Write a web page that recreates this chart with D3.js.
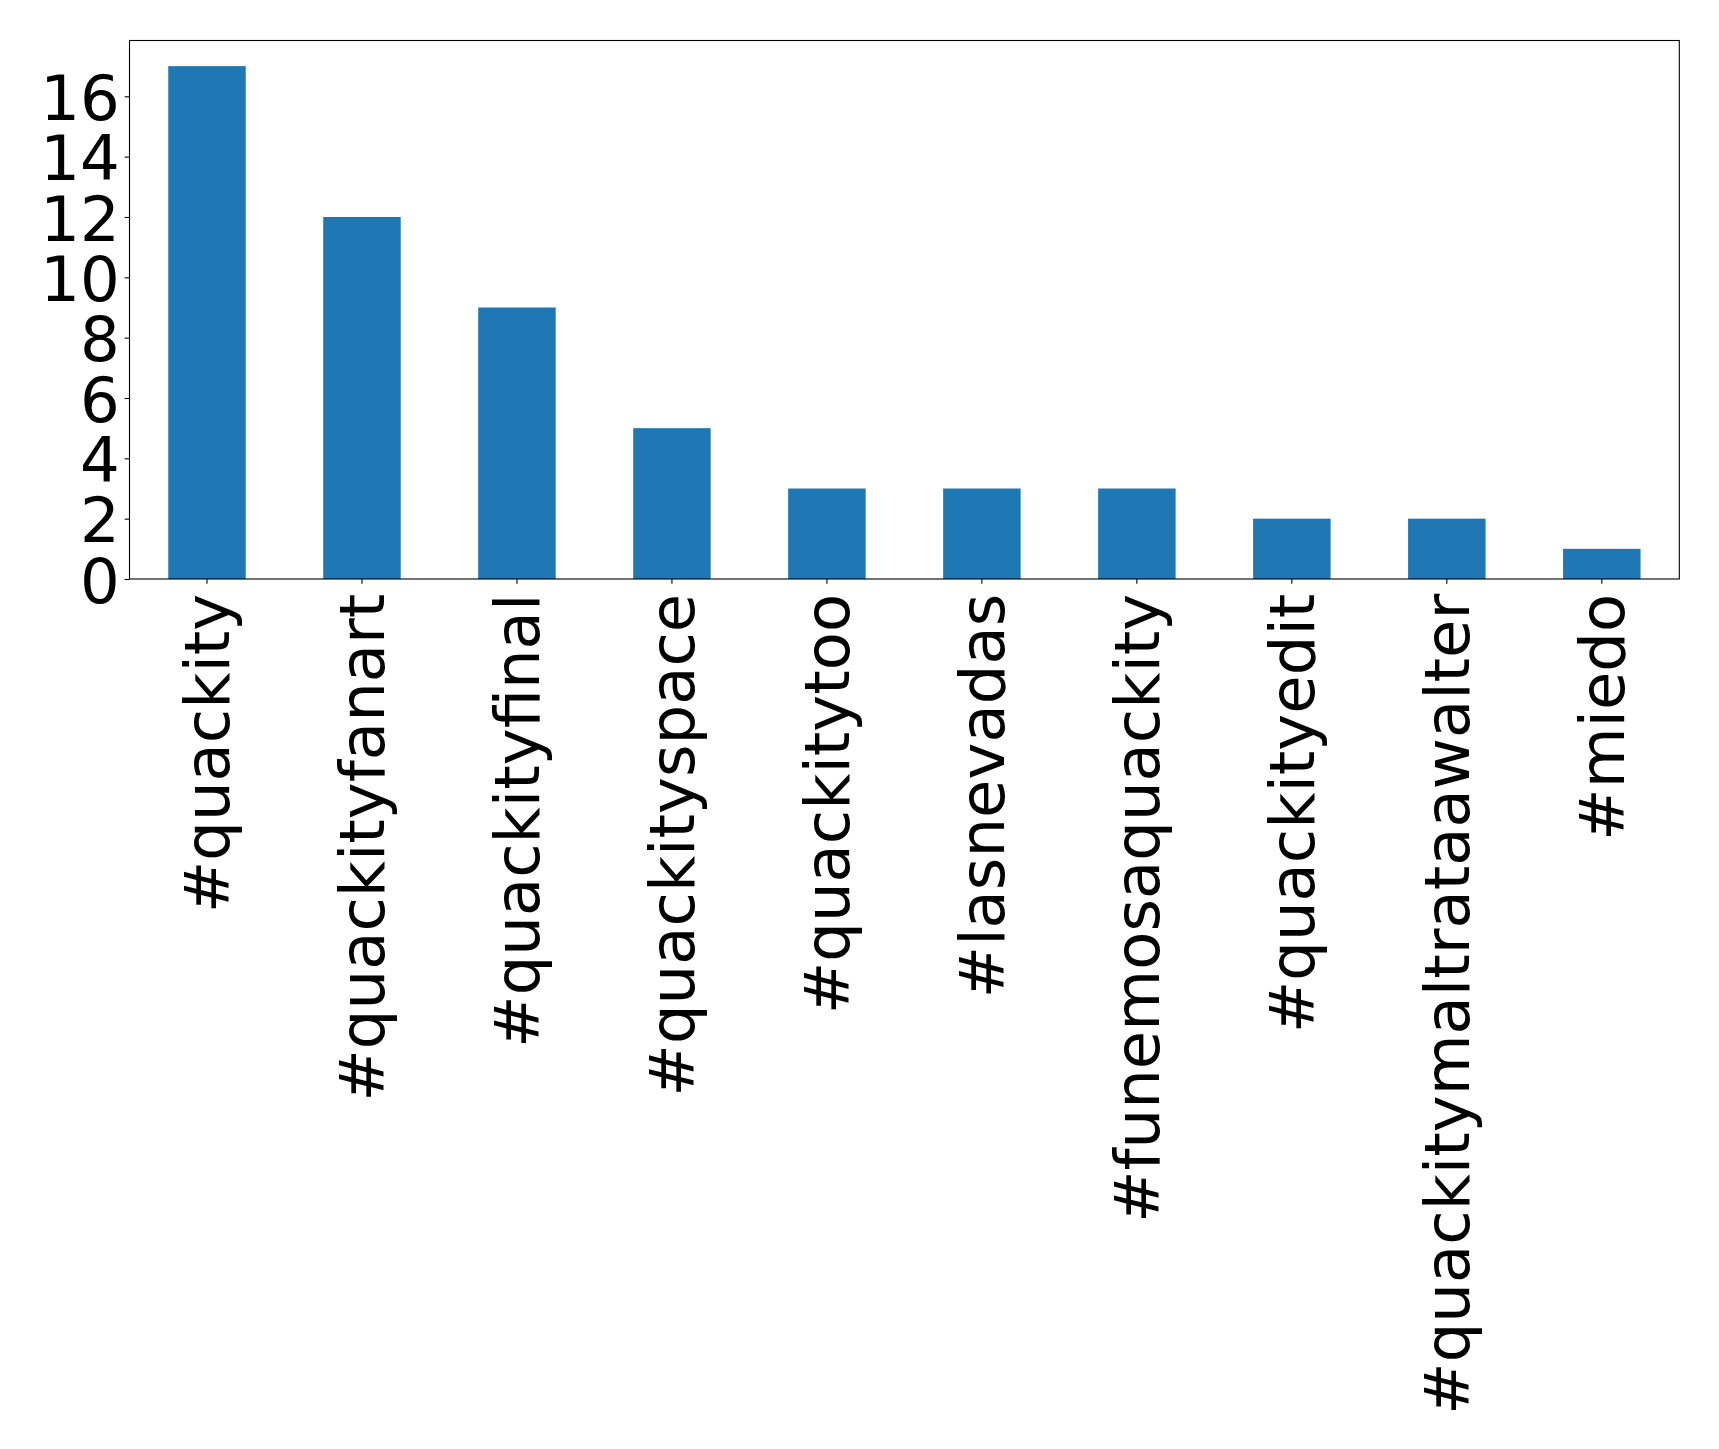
<!DOCTYPE html>
<html>
<head>
<meta charset="utf-8">
<script src="https://cdn.jsdelivr.net/npm/d3@7"></script>
<style>
  html, body { margin: 0; padding: 0; background: #fff; }
  svg { display: block; }
  text { font-family: "DejaVu Sans", sans-serif; fill: #000; }
</style>
</head>
<body>
<svg id="chart" width="1719" height="1449"></svg>
<script>
const categories = ["#quackity", "#quackityfanart", "#quackityfinal", "#quackityspace", "#quackitytoo",
  "#lasnevadas", "#funemosaquackity", "#quackityedit", "#quackitymaltrataawalter", "#miedo"];
const counts = [17, 12, 9, 5, 3, 3, 3, 2, 2, 1];
const yTicks = [0, 2, 4, 6, 8, 10, 12, 14, 16];

const margin = { left: 129.5, top: 40.5, right: 1719 - 1679.3, bottom: 1449 - 579 };
const W = 1719 - margin.left - margin.right;
const H = 1449 - margin.top - margin.bottom;
const fontSize = 62.5;

const svg = d3.select("#chart");
const g = svg.append("g").attr("transform", `translate(${margin.left},${margin.top})`);

const x = d3.scaleBand().domain(categories).range([0, W]).paddingInner(0.5).paddingOuter(0.25);
const yMax = d3.max(counts) * 1.05;
const y = d3.scaleLinear().domain([0, yMax]).range([H, 0]);

g.selectAll("rect.bar").data(counts).enter().append("rect")
  .attr("class", "bar")
  .attr("x", (d, i) => x(categories[i]))
  .attr("width", x.bandwidth())
  .attr("y", d => y(d))
  .attr("height", d => H - y(d))
  .attr("fill", "#1f77b4");

const tickLen = 4.86, pad = 4.86;

// y axis
const yAxis = g.append("g").call(d3.axisLeft(y).tickValues(yTicks).tickSize(tickLen).tickPadding(pad).tickFormat(d3.format("d")));
yAxis.select(".domain").remove();
yAxis.selectAll(".tick line").attr("stroke", "#000").attr("stroke-width", 1.1);
yAxis.selectAll(".tick text").attr("font-size", fontSize).attr("dy", "0.37em")
  .style("font-family", "'DejaVu Sans', sans-serif");

// x axis
const xAxis = g.append("g").attr("transform", `translate(0,${H})`)
  .call(d3.axisBottom(x).tickSize(tickLen).tickPadding(pad));
xAxis.select(".domain").remove();
xAxis.selectAll(".tick line").attr("stroke", "#000").attr("stroke-width", 1.1);
xAxis.selectAll(".tick text")
  .attr("font-size", fontSize)
  .attr("text-anchor", "end")
  .attr("transform", `rotate(-90)`)
  .attr("x", -(tickLen + pad + 5))
  .attr("y", 0)
  .attr("dy", "0.35em")
  .style("font-family", "'DejaVu Sans', sans-serif");

// frame
g.append("rect").attr("x", 0).attr("y", 0).attr("width", W).attr("height", H)
  .attr("fill", "none").attr("stroke", "#000").attr("stroke-width", 1.1);
</script>
</body>
</html>
